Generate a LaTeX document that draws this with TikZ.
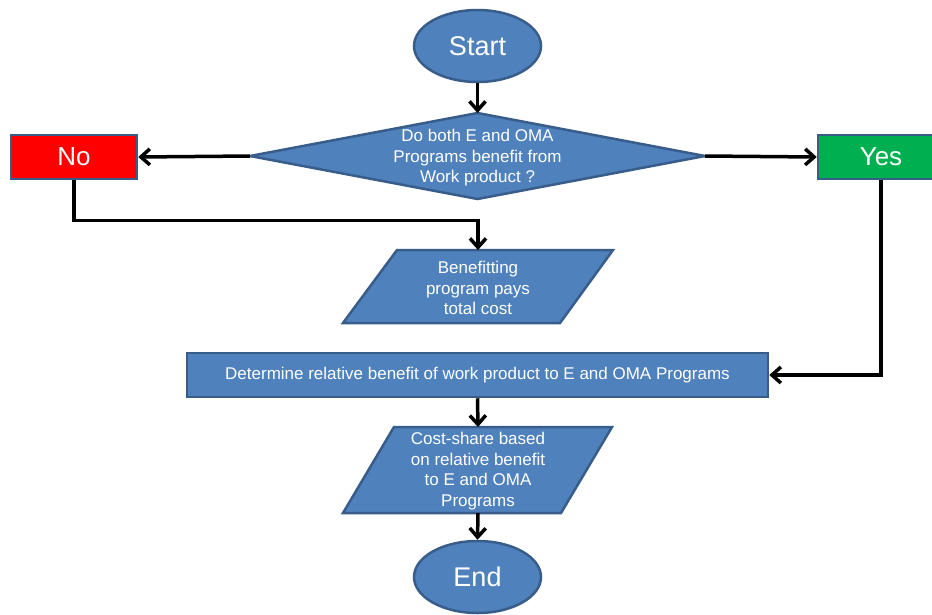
\documentclass[tikz,border=0pt]{standalone}
\usepackage{fontspec}
\setmainfont{Liberation Sans}
\usetikzlibrary{shapes.geometric,arrows.meta}
\definecolor{boxfill}{HTML}{4F81BD}
\definecolor{boxedge}{HTML}{385D8A}
\definecolor{noRed}{HTML}{FF0000}
\definecolor{yesGreen}{HTML}{00B050}
\begin{document}
\begin{tikzpicture}[x=1pt,y=-1pt,
  shapeline/.style={draw=boxedge,line width=2.5pt,fill=boxfill},
  term/.style={shapeline,ellipse,inner sep=0pt,minimum width=127pt,minimum height=72pt,text=white,font=\fontsize{27}{30}\selectfont},
  txt/.style={text=white,align=center,inner sep=0pt,font=\fontsize{17}{20.5}\selectfont},
  flag/.style={rectangle,draw=boxedge,line width=2.5pt,inner sep=0pt,minimum width=126pt,minimum height=44pt,text=white,font=\fontsize{26}{30}\selectfont},
  procbox/.style={rectangle,shapeline,inner sep=0pt,text=white,font=\fontsize{17}{20}\selectfont},
  conn/.style={line width=3.5pt,-{Straight Barb[length=9pt,width=16pt]}}]
\useasboundingbox (0,0) rectangle (932,614);
% terminals
\node[term] (start) at (477.5,46) {Start};
\node[term] (end) at (477.5,577) {End};
% decision
\draw[shapeline] (250,156) -- (477.5,113) -- (705,156) -- (477.5,199) -- cycle;
\coordinate (decL) at (250,156);
\coordinate (decR) at (705,156);
\coordinate (decT) at (477.5,113);
\node[txt] (dec) at (477.5,158) {Do both E and OMA\\Programs benefit from\\Work product ?};
% No / Yes
\node[flag,fill=noRed] (no) at (74,157) {No};
\node[flag,fill=yesGreen] (yes) at (881,157) {Yes};
% parallelogram 1
\draw[shapeline] (397,250) -- (613,250) -- (560,323) -- (343,323) -- cycle;
\coordinate (p1T) at (478,250);
\node[txt] (pays) at (478,288) {Benefitting\\program pays\\total cost};
% determine box
\node[procbox,minimum width=581pt,minimum height=44pt] (det) at (477.5,375) {Determine relative benefit of work product to E and OMA Programs};
% parallelogram 2
\draw[shapeline] (394,427) -- (612,427) -- (561,513) -- (343,513) -- cycle;
\coordinate (p2T) at (478,427);
\coordinate (p2B) at (478,513);
\node[txt] (share) at (478,471) {Cost-share based\\on relative benefit\\to E and OMA\\Programs};
% connectors
\draw[conn] (start.south) -- (decT);
\draw[conn] (decL) -- (no.east);
\draw[conn] (decR) -- (yes.west);
\draw[conn] (no.south) -- ++(0,40) -| (p1T);
\draw[conn] (yes.south) |- (det.east);
\draw[conn] (det.south) -- (p2T);
\draw[conn] (p2B) -- (end.north);
\end{tikzpicture}
\end{document}
